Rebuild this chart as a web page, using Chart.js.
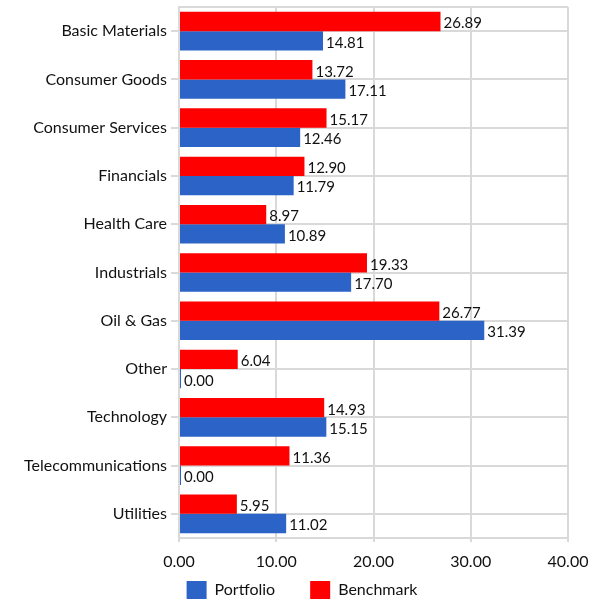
<!DOCTYPE html>
<html><head><meta charset="utf-8">
<script src="https://cdn.jsdelivr.net/npm/chart.js@4/dist/chart.umd.min.js"></script>
<style>html,body{margin:0;padding:0;background:#fff}#wrap{width:590px;height:603px}</style>
</head><body><div id="wrap"><canvas id="c"></canvas></div>
<script>
const categories = ["Basic Materials","Consumer Goods","Consumer Services","Financials","Health Care","Industrials","Oil & Gas","Other","Technology","Telecommunications","Utilities"];
const benchmark = [26.89,13.72,15.17,12.90,8.97,19.33,26.77,6.04,14.93,11.36,5.95];
const portfolio = [14.81,17.11,12.46,11.79,10.89,17.70,31.39,0.00,15.15,0.00,11.02];
const xTicks = [0,10,20,30,40];

const FONT = "Lato, 'Open Sans', sans-serif";
const frame = {
  id:'frame',
  beforeDatasetsDraw(chart){
    const a = chart.chartArea, ctx = chart.ctx;
    ctx.save(); ctx.strokeStyle='#d9d9d9'; ctx.lineWidth=2;
    ctx.beginPath(); ctx.moveTo(a.left,a.top); ctx.lineTo(a.right,a.top); ctx.stroke();
    ctx.restore();
  }
};
const legendShift = {
  id:'legendShift',
  afterLayout(chart){
    const l = chart.legend;
    l.top -= 25; l.bottom = 603;
    l.left += 18; l.right += 18;
  }
};
const labels = {
  id:'labels',
  afterDatasetsDraw(chart){
    const ctx = chart.ctx; ctx.save();
    ctx.font = "15px " + FONT; ctx.fillStyle = '#111'; ctx.textBaseline='middle'; ctx.textAlign='left';
    chart.data.datasets.forEach((ds,i)=>{
      chart.getDatasetMeta(i).data.forEach((el,j)=>{
        ctx.fillText(Number(ds.data[j]).toFixed(2), el.x + 3, el.y + 2);
      });
    });
    ctx.restore();
  }
};
new Chart(document.getElementById('c'), {
  type:'bar',
  data:{labels:categories, datasets:[
    {label:'Benchmark', data:benchmark, backgroundColor:'#ff0000', categoryPercentage:0.8, barPercentage:1, minBarLength:2},
    {label:'Portfolio', data:portfolio, backgroundColor:'#2b64c6', categoryPercentage:0.8, barPercentage:1, minBarLength:2}
  ]},
  options:{
    indexAxis:'y', responsive:true, maintainAspectRatio:false, animation:false,
    layout:{padding:{top:7,right:22,left:0,bottom:0}},
    plugins:{
      tooltip:{enabled:false},
      legend:{position:'bottom', reverse:true, maxHeight:32,
        labels:{boxWidth:20, boxHeight:18, padding:35, color:'#111', font:{family:FONT, size:16}}}
    },
    scales:{
      x:{min:0,max:40,
        afterBuildTicks(s){ s.ticks = xTicks.map(v=>({value:v})); },
        grid:{color:'#d9d9d9', lineWidth:2, tickLength:4},
        border:{color:'#d9d9d9', width:2},
        ticks:{color:'#111', font:{family:FONT,size:16}, padding:10, maxRotation:0, callback:v=>Number(v).toFixed(2)},
        afterFit(s){ s.height = 33; s.paddingRight = 0; s.paddingLeft = 0; }
      },
      y:{
        grid:{offset:false, color:'#d9d9d9', lineWidth:2, tickLength:8},
        border:{color:'#d9d9d9', width:2},
        ticks:{color:'#111', font:{family:FONT,size:16}, padding:4},
        afterFit(s){ s.width = 179; s.paddingTop = 0; s.paddingBottom = 0; }
      }
    }
  },
  plugins:[frame, labels, legendShift]
});
</script></body></html>
